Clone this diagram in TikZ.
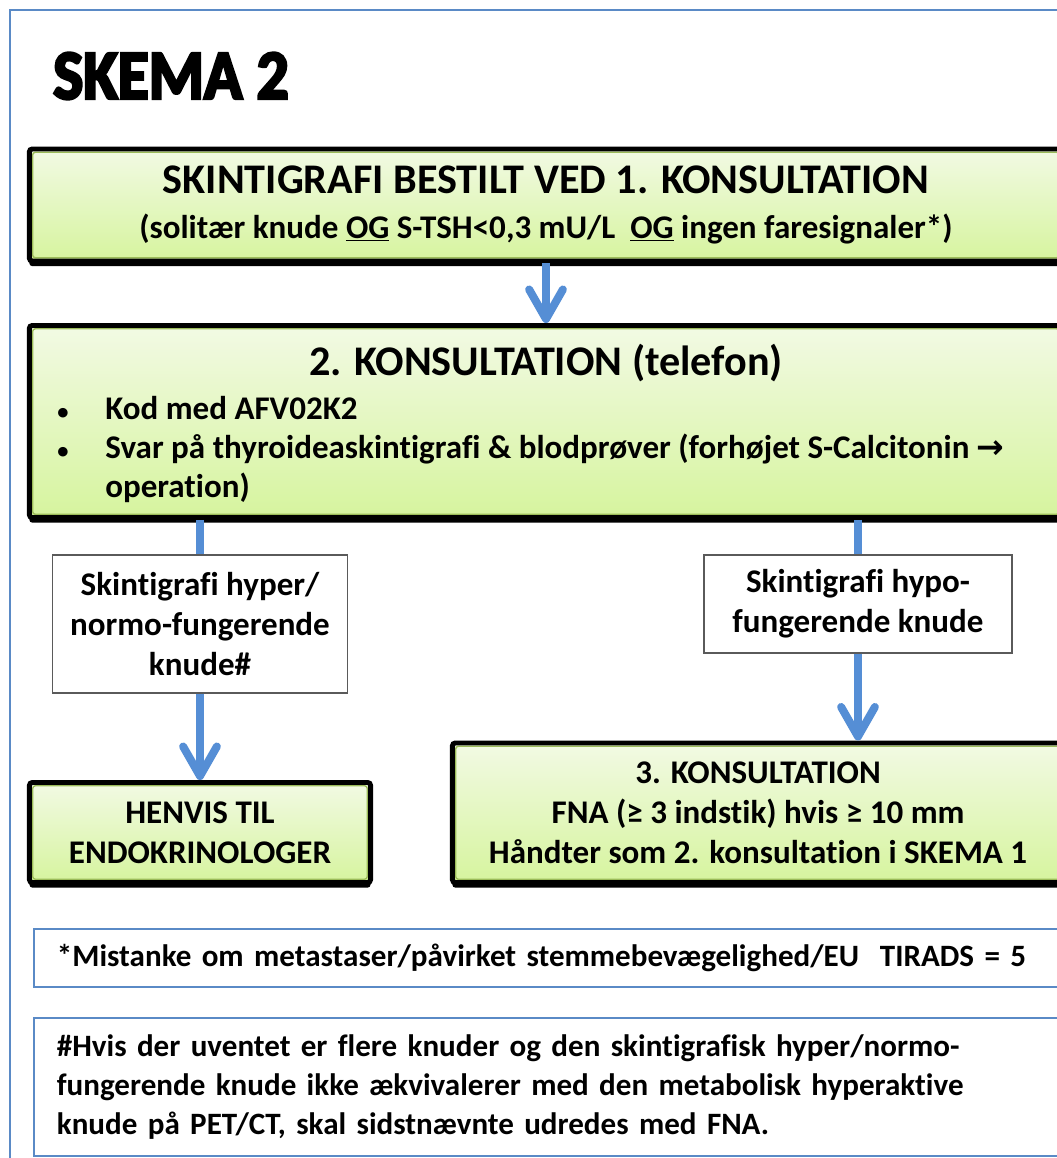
\documentclass[tikz,border=0pt]{standalone}
\usepackage{fontspec}
\setmainfont[Ligatures=NoCommon]{Carlito}
\newfontfamily\titlefont[FakeStretch=0.9, BoldFeatures={FakeBold=4}]{Carlito}
\newfontfamily\symfont{DejaVu Sans}
\usetikzlibrary{arrows.meta,shadows}

\definecolor{boxtop}{RGB}{242,250,228}
\definecolor{boxbottom}{RGB}{214,244,158}
\definecolor{boxolive}{RGB}{155,187,89}
\definecolor{flowblue}{RGB}{85,142,213}
\definecolor{frameblue}{RGB}{90,138,198}
\definecolor{boxgray}{RGB}{90,90,90}

\tikzset{
  greenbox/.style={rectangle, rounded corners=2pt, draw=black, line width=3.5pt,
    top color=boxtop, bottom color=boxbottom,
    drop shadow={shadow xshift=0pt, shadow yshift=-3.6pt, opacity=1, fill=black},
    path picture={\draw[boxolive, line width=1pt]
      ([xshift=2.3pt,yshift=-2.3pt]path picture bounding box.north west) rectangle
      ([xshift=-2.3pt,yshift=2.3pt]path picture bounding box.south east);},
    align=center, font=\bfseries},
  whitebox/.style={rectangle, draw=boxgray, line width=0.9pt, fill=white, align=center,
    font=\bfseries\fontsize{23.5}{28.5}\selectfont},
  notebox/.style={rectangle, draw=frameblue, line width=1.4pt, fill=white, align=left,
    inner xsep=0.575cm, text width=25cm, font=\bfseries\fontsize{22.1}{27.4}\selectfont},
  flowline/.style={draw=flowblue, line width=5.7pt},
  flowarrow/.style={flowline, -{Straight Barb[length=21pt,width=24pt,round]}}
}

\begin{document}
\begin{tikzpicture}[x=0.025cm,y=-0.025cm]
  \useasboundingbox (0,0) rectangle (1057,1158);
  \clip (0,0) rectangle (1057,1158);
  \draw[frameblue, line width=1pt] (10,10) rectangle (1100,1200);

  \path (53,76) node(title)[anchor=west, inner sep=0pt, font=\titlefont\bfseries\fontsize{50}{60}\selectfont]{SKEMA 2};

  \path (546,205) node(skint)[greenbox, minimum width=25.825cm, minimum height=2.8cm]
    {{\fontsize{30}{34}\selectfont SKINTIGRAFI BESTILT VED 1. KONSULTATION}\\[13pt]
     {\fontsize{23.5}{31.3}\selectfont (solitær knude \underline{OG} S-TSH<0,3 mU/L \ \underline{OG} ingen faresignaler*)}};

  \path (546,421.5) node(kons2)[greenbox, minimum width=25.825cm, minimum height=4.8cm]{};
  \path (546,363) node(kons2head)[inner sep=0pt, font=\bfseries\fontsize{30}{34}\selectfont]{2. KONSULTATION (telefon)};
  \path (57,392) node(kons2list)[anchor=north west, inner sep=0pt, align=left, font=\bfseries\fontsize{23.5}{27.7}\selectfont]
    {\begin{tabular}{@{}p{1.2cm}@{}l@{}}
      {\fontsize{16}{16}\selectfont •} & Kod med AFV02K2\\
      {\fontsize{16}{16}\selectfont •} & Svar på thyroideaskintigrafi \& blodprøver (forhøjet S-Calcitonin {\symfont\bfseries→}\\
        & operation)
    \end{tabular}};

  \path (200,624) node(hyper)[whitebox, minimum width=7.375cm, minimum height=3.45cm]
    {Skintigrafi hyper/\\normo-fungerende\\knude\#};
  \path (858,604) node(hypo)[whitebox, minimum width=7.7cm, minimum height=2.45cm]
    {Skintigrafi hypo-\\fungerende knude};

  \path (200,832.5) node(henvis)[greenbox, minimum width=8.525cm, minimum height=2.5cm,
    font=\bfseries\fontsize{23.5}{28.5}\selectfont]{HENVIS TIL\\ENDOKRINOLOGER};
  \path (758,812.75) node(kons3)[greenbox, minimum width=15.275cm, minimum height=3.4875cm,
    font=\bfseries\fontsize{23.5}{28.5}\selectfont]
    {3. KONSULTATION\\FNA (≥ 3 indstik) hvis ≥ 10 mm\\Håndter som 2. konsultation i SKEMA 1};

  \draw[flowarrow] (skint.south) -- (kons2.north);
  \draw[flowline] (hyper.north |- kons2.south) -- (hyper.north);
  \draw[flowarrow] (hyper.south) -- (henvis.north);
  \draw[flowline] (hypo.north |- kons2.south) -- (hypo.north);
  \draw[flowarrow] (hypo.south) -- (hypo.south |- kons3.north);

  \path (557,958) node(note1)[notebox, minimum height=1.45cm]
    {*Mistanke om metastaser/påvirket stemmebevægelighed/EU \ TIRADS = 5};
  \path (557,1087) node(note2)[notebox, minimum height=3.45cm]
    {\#Hvis der uventet er flere knuder og den skintigrafisk hyper/normo-\\
     fungerende knude ikke ækvivalerer med den metabolisk hyperaktive\\
     knude på PET/CT, skal sidstnævnte udredes med FNA.};
\end{tikzpicture}
\end{document}
